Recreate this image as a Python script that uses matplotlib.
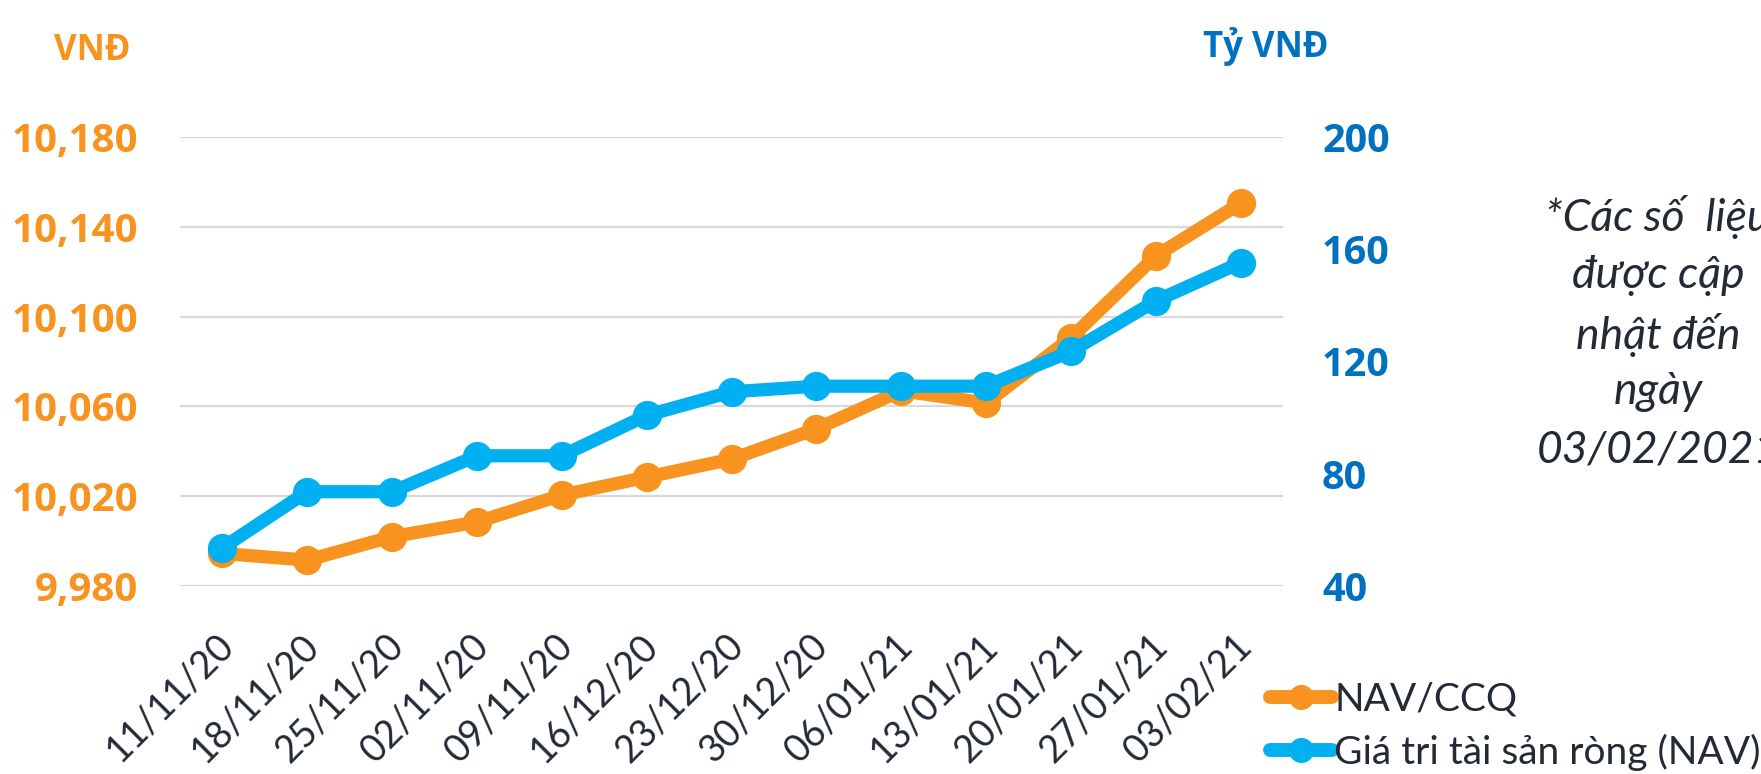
import matplotlib
matplotlib.use("Agg")
import matplotlib.pyplot as plt
import matplotlib.transforms as mtransforms
from matplotlib.lines import Line2D

dates = ["11/11/20", "18/11/20", "25/11/20", "02/11/20", "09/11/20", "16/12/20", "23/12/20",
         "30/12/20", "06/01/21", "13/01/21", "20/01/21", "27/01/21", "03/02/21"]
nav_ccq = [9994.5, 9991.5, 10002, 10008.5, 10020.5, 10028.5, 10036.5, 10050, 10067, 10061.5,
           10090.5, 10127, 10150.5]
nav_total = [53.6, 73.6, 73.6, 86.4, 86.4, 100.8, 109.2, 111.2, 111.2, 111.2, 123.6, 141.6, 155.2]
left_ticks = [9980, 10020, 10060, 10100, 10140, 10180]
right_ticks = [40, 80, 120, 160, 200]

ORANGE = "#F7931E"
BLUE_LINE = "#00B0F0"
BLUE_TXT = "#0070C0"
DARK = "#222A35"
FONT = ["Lato", "DejaVu Sans"]
BOLD = ["Open Sans", "DejaVu Sans"]
plt.rcParams["font.family"] = FONT

fig = plt.figure(figsize=(17.61, 7.74), dpi=100)
ax = fig.add_axes([0.1022, 0.2429, 0.6264, 0.5801])
ax2 = ax.twinx()

x = list(range(len(dates)))
ax.plot(x, nav_ccq, color=ORANGE, lw=9.5, marker="o", ms=20, solid_capstyle="round", zorder=3)
ax2.plot(x, nav_total, color=BLUE_LINE, lw=9.5, marker="o", ms=20, solid_capstyle="round", zorder=3)

ax.set_xlim(-0.5, len(dates) - 0.5)
ax.set_ylim(9980, 10180)
ax2.set_ylim(40, 200)
ax.set_yticks(left_ticks)
ax.set_yticklabels([f"{v:,}" for v in left_ticks], family=BOLD, fontweight="bold",
                   fontsize=29, color=ORANGE)
ax2.set_yticks(right_ticks)
ax2.set_yticklabels([str(v) for v in right_ticks], family=BOLD, fontweight="bold",
                    fontsize=28.5, color=BLUE_TXT)

for a in (ax, ax2):
    for s in a.spines.values():
        s.set_visible(False)
ax.grid(axis="y", color="#D9D9D9", lw=1.6)
ax.set_axisbelow(True)
ax.tick_params(axis="y", length=0, pad=30)
ax2.tick_params(axis="y", length=0, pad=28)

ax.set_xticks(x)
ax.set_xticklabels(dates, rotation=45, ha="right", rotation_mode="anchor", fontsize=27, color=DARK)
ax.tick_params(axis="x", length=0, pad=28)
shift = mtransforms.ScaledTranslation(-0.07, -0.02, fig.dpi_scale_trans)
for lab in ax.get_xticklabels():
    lab.set_transform(lab.get_transform() + shift)

fig.text(92 / 1761, 1 - 51 / 774, "VNĐ", color=ORANGE, fontsize=25, fontweight="bold",
         family=BOLD, ha="center", va="center")
fig.text(1266 / 1761, 1 - 47 / 774, "Tỷ VNĐ", color=BLUE_TXT, fontsize=25, fontweight="bold",
         family=BOLD, ha="center", va="center")

note_lines = ["*Các số  liệu", "được cập", "nhật đến", "ngày", "03/02/2021"]
ys = [217, 276, 335, 392, 450]
for t, yy in zip(note_lines, ys):
    fig.text(1658 / 1761, 1 - yy / 774, t, color=DARK, fontsize=32, style="italic",
             ha="center", va="center")

handles = [Line2D([0], [0], color=ORANGE, lw=10, marker="o", ms=17, solid_capstyle="round"),
           Line2D([0], [0], color=BLUE_LINE, lw=10, marker="o", ms=17, solid_capstyle="round")]
fig.legend(handles, ["NAV/CCQ", "Giá tri tài sản ròng (NAV)"], loc="upper left",
           bbox_to_anchor=(1270 / 1761, 1 - 682 / 774), frameon=False, fontsize=28,
           handlelength=1.6, handletextpad=0.05, labelspacing=0.4, labelcolor=DARK,
           borderaxespad=0, borderpad=0)

fig.savefig("out.png", dpi=100)
